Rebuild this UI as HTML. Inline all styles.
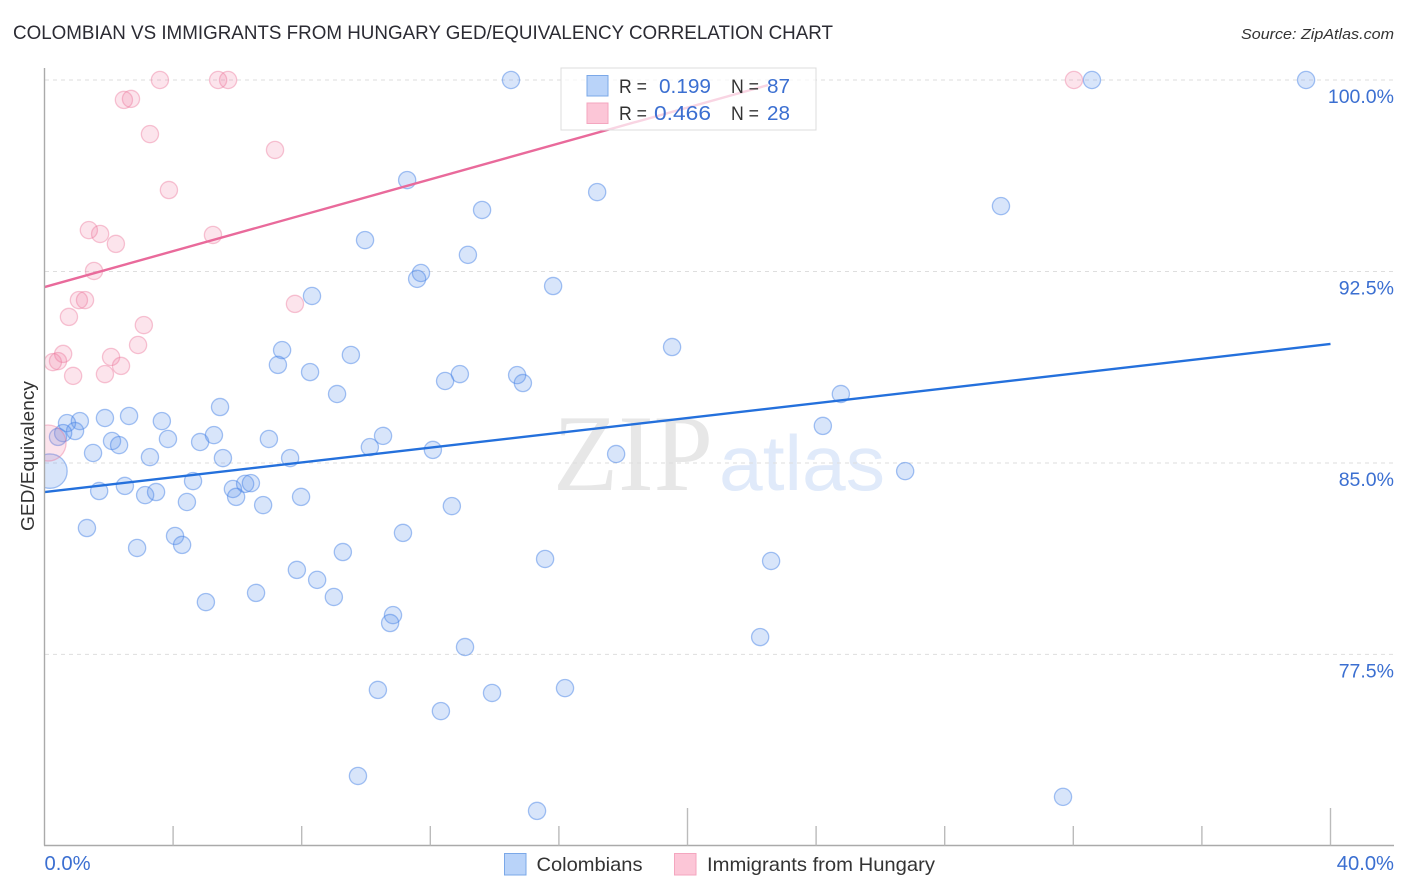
<!DOCTYPE html>
<html lang="en">
<head>
<meta charset="utf-8">
<title>Colombian vs Immigrants from Hungary GED/Equivalency Correlation Chart</title>
<style>
html,body{margin:0;padding:0;background:#fff;width:1406px;height:892px;overflow:hidden}
svg{display:block}
text{font-family:"Liberation Sans",sans-serif}
</style>
</head>
<body>
<svg id="chart" xmlns="http://www.w3.org/2000/svg" width="1406" height="892" viewBox="0 0 1406 892">
  <defs>
    <clipPath id="plot-clip"><rect x="45" y="60" width="1349" height="785"/></clipPath>
  </defs>

  <text x="13" y="39" font-size="19" fill="#2b2b33" textLength="820" lengthAdjust="spacingAndGlyphs">COLOMBIAN VS IMMIGRANTS FROM HUNGARY GED/EQUIVALENCY CORRELATION CHART</text>
  <text x="1241" y="39" font-size="15" font-style="italic" fill="#333" textLength="153" lengthAdjust="spacingAndGlyphs">Source: ZipAtlas.com</text>

  <g>
    <text x="553" y="490" font-size="109" fill="#e7e7e7" style="font-family:'Liberation Serif',serif" textLength="160" lengthAdjust="spacingAndGlyphs">ZIP</text>
    <text x="719" y="490" font-size="78" fill="#e0eafa" textLength="166" lengthAdjust="spacingAndGlyphs">atlas</text>
  </g>

  <g id="grid"></g>
  <g id="points" clip-path="url(#plot-clip)"></g>
  <g id="trends"></g>
  <g id="axes"></g>
  <g id="tick-labels"></g>

  <text transform="translate(34,531) rotate(-90)" font-size="18" fill="#333" textLength="150" lengthAdjust="spacingAndGlyphs">GED/Equivalency</text>

  <g>
    <rect x="561" y="68" width="255" height="62" fill="#fff" fill-opacity="0.72" stroke="#dcdcdc" stroke-width="1"/>
    <rect x="587" y="75.5" width="21" height="20.5" fill="#b9d3f9" stroke="#7ba8e8" stroke-width="1"/>
    <rect x="587" y="103" width="21" height="20.5" fill="#fcc6d7" stroke="#f4a6bf" stroke-width="1"/>
    <text x="619" y="93" font-size="19" fill="#333" textLength="28" lengthAdjust="spacingAndGlyphs">R =</text>
    <text x="659" y="93" font-size="20.5" fill="#3b6fd1" textLength="52" lengthAdjust="spacingAndGlyphs">0.199</text>
    <text x="731" y="93" font-size="19" fill="#333" textLength="28" lengthAdjust="spacingAndGlyphs">N =</text>
    <text x="767" y="93" font-size="20.5" fill="#3b6fd1" textLength="23" lengthAdjust="spacingAndGlyphs">87</text>
    <text x="619" y="120" font-size="19" fill="#333" textLength="28" lengthAdjust="spacingAndGlyphs">R =</text>
    <text x="654" y="120" font-size="20.5" fill="#3b6fd1" textLength="57" lengthAdjust="spacingAndGlyphs">0.466</text>
    <text x="731" y="120" font-size="19" fill="#333" textLength="28" lengthAdjust="spacingAndGlyphs">N =</text>
    <text x="767" y="120" font-size="20.5" fill="#3b6fd1" textLength="23" lengthAdjust="spacingAndGlyphs">28</text>
  </g>

  <g>
    <g>
      <rect x="504.5" y="853.5" width="21.5" height="21.5" fill="#b9d3f9" stroke="#7ba8e8" stroke-width="1"/>
      <text x="536.5" y="871" font-size="19.5" fill="#333" textLength="106" lengthAdjust="spacingAndGlyphs">Colombians</text>
    </g>
    <g>
      <rect x="674.5" y="853.5" width="21.5" height="21.5" fill="#fcc6d7" stroke="#f4a6bf" stroke-width="1"/>
      <text x="707" y="871" font-size="19.5" fill="#333" textLength="228" lengthAdjust="spacingAndGlyphs">Immigrants from Hungary</text>
    </g>
  </g>
</svg>

<script>
const colombianX = [14.51,32.58,39.24,11.28,17.19,13.61,29.75,9.97,13.17,11.71,11.59,15.82,8.32,19.52,7.39,9.53,7.26,8.26,12.92,14.70,12.46,14.88,9.10,24.77,5.46,2.63,1.88,1.10,3.65,0.70,0.95,0.58,2.10,2.32,3.84,4.84,5.27,6.98,1.51,3.28,5.55,7.64,0.17,1.70,2.50,3.13,3.47,4.62,4.43,5.86,5.96,6.24,6.42,6.80,7.98,1.32,2.88,4.06,4.28,7.85,8.48,9.28,9.00,6.58,5.02,10.84,10.75,11.15,12.67,15.57,22.60,17.78,12.08,10.12,10.53,24.21,26.77,22.26,13.08,10.37,13.92,16.19,12.33,9.75,31.68,15.32,0.42];
const colombianY = [100,100,100,96.08,95.61,94.91,95.06,93.73,93.15,92.44,92.21,91.93,91.54,89.54,89.42,89.23,88.84,88.56,88.48,88.44,88.21,88.13,87.70,87.70,87.19,86.84,86.76,86.64,86.64,86.56,86.25,86.17,85.86,85.70,85.94,85.82,86.09,85.94,85.39,85.23,85.19,85.19,84.68,83.90,84.10,83.74,83.86,84.29,83.47,83.98,83.67,84.18,84.21,83.35,83.67,82.45,81.67,82.14,81.79,80.81,80.42,81.51,79.75,79.91,79.55,79.04,78.73,82.26,83.31,81.24,81.16,85.35,85.51,85.62,86.06,86.45,84.68,78.18,77.79,76.11,75.99,76.18,75.28,72.74,71.92,71.37,86.02];
const hungaryX = [3.59,5.40,5.71,32.02,2.47,2.69,3.28,7.17,3.87,5.24,1.38,1.73,2.22,1.54,1.07,1.26,7.79,0.76,3.09,2.91,0.58,0.26,0.42,2.07,1.88,2.38,0.89,0.11];
const hungaryY = [100,100,100,100,99.22,99.26,97.88,97.26,95.69,93.93,94.12,93.97,93.58,92.52,91.38,91.38,91.23,90.72,90.40,89.62,89.27,88.95,88.99,89.15,88.48,88.80,88.41,85.78];
const colombianHeavyIndex = 42;
const colombianHeavyWeight = 4;
const hungaryHeavyIndex = 27;
const hungaryHeavyWeight = 4.4;
const colombianTrendX = [0,40];
const colombianTrendY = [83.86,89.66];
const hungaryTrendX = [0,22.5];
const hungaryTrendY = [91.89,99.80];
const yTickValues = [100,92.5,85,77.5];
const yTickLabels = ["100.0%","92.5%","85.0%","77.5%"];
const xTickValues = [4,8,12,16,20,24,28,32,36,40];
const xMajorTicks = [20,40];
const xEndValues = [0,40];
const xEndLabels = ["0.0%","40.0%"];

const NS = "http://www.w3.org/2000/svg";
const xScale = v => 44.5 + v * 32.15;
const yScale = v => 80 + (100 - v) * 25.53;
const baseRadius = 8.6;

function make(tag, attrs, parent) {
  const el = document.createElementNS(NS, tag);
  for (const k in attrs) el.setAttribute(k, attrs[k]);
  parent.appendChild(el);
  return el;
}

const gridG = document.getElementById("grid");
yTickValues.forEach(v => {
  const el = make("line", {x1:45, x2:1394, y1:yScale(v), y2:yScale(v), stroke:"#dedede", "stroke-width":1, "stroke-dasharray":"4 4"}, gridG);
  
  
});

const pointsG = document.getElementById("points");
colombianX.forEach((xv, i) => {
  const w = i === colombianHeavyIndex ? colombianHeavyWeight : 1;
  const el = make("circle", {cx:xScale(xv), cy:yScale(colombianY[i]), r:baseRadius*Math.sqrt(w), fill:"rgba(90,145,235,0.24)", stroke:"rgba(70,130,230,0.48)", "stroke-width":1.3}, pointsG);
  
  
});
hungaryX.forEach((xv, i) => {
  const w = i === hungaryHeavyIndex ? hungaryHeavyWeight : 1;
  const el = make("circle", {cx:xScale(xv), cy:yScale(hungaryY[i]), r:baseRadius*Math.sqrt(w), fill:"rgba(238,120,160,0.2)", stroke:"rgba(236,120,155,0.42)", "stroke-width":1.3}, pointsG);
  
  
});

const trendsG = document.getElementById("trends");
const trendBlue = make("line", {x1:xScale(colombianTrendX[0]), y1:yScale(colombianTrendY[0]), x2:xScale(colombianTrendX[1]), y2:yScale(colombianTrendY[1]), stroke:"#2470dc", "stroke-width":2.4}, trendsG);


const trendPink = make("line", {x1:xScale(hungaryTrendX[0]), y1:yScale(hungaryTrendY[0]), x2:xScale(hungaryTrendX[1]), y2:yScale(hungaryTrendY[1]), stroke:"#e96a9b", "stroke-width":2.4}, trendsG);



const axesG = document.getElementById("axes");
const yAxis = make("line", {x1:44.5, x2:44.5, y1:68, y2:845.5, stroke:"#aaa", "stroke-width":1.4}, axesG);


const xAxis = make("line", {x1:44, x2:1394, y1:845.5, y2:845.5, stroke:"#aaa", "stroke-width":1.4}, axesG);


xTickValues.forEach(v => {
  const top = xMajorTicks.includes(v) ? 808 : 826;
  const el = make("line", {x1:xScale(v), x2:xScale(v), y1:top, y2:845.5, stroke:"#bbb", "stroke-width":1.4}, axesG);
  
  
});

const labelsG = document.getElementById("tick-labels");
yTickValues.forEach((v, i) => {
  const el = make("text", {x:1394, y:yScale(v)+23, "text-anchor":"end", "font-size":19.5, fill:"#3b6fd1"}, labelsG);
  el.textContent = yTickLabels[i];
  
  
});
xEndValues.forEach((v, i) => {
  const el = make("text", {x: i === 0 ? xScale(v) : 1394, y:870, "text-anchor": i === 0 ? "start" : "end", "font-size":20.2, fill:"#3b6fd1"}, labelsG);
  el.textContent = xEndLabels[i];
  
  
});
</script>
</body>
</html>
